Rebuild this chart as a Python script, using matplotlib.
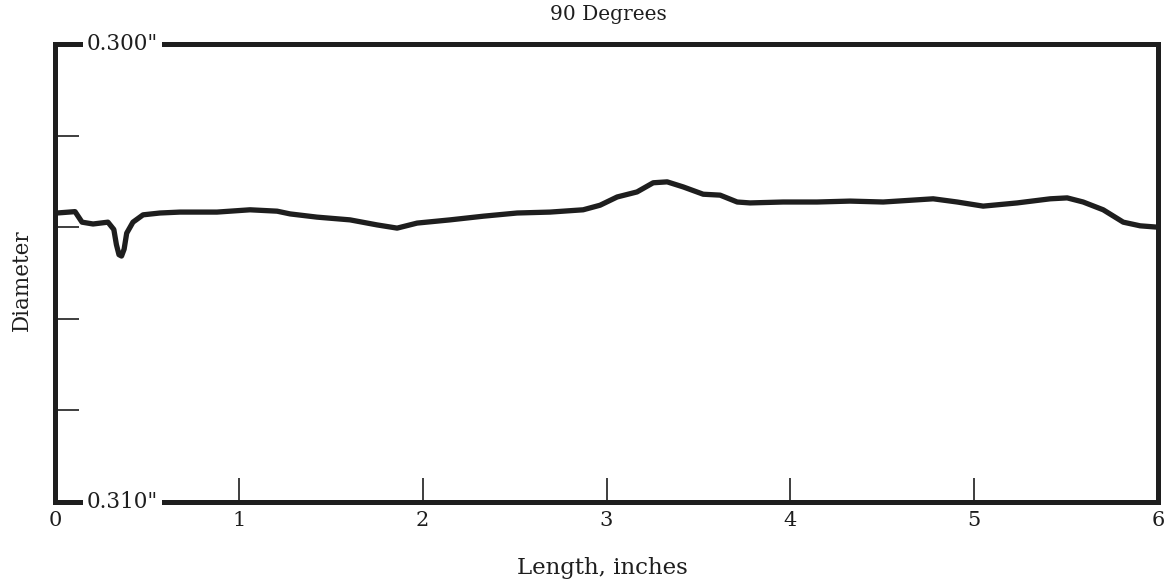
import matplotlib
matplotlib.use("Agg")
import matplotlib.pyplot as plt
import numpy as np

# Data (length in inches, diameter in inches)
length_in = [0.0, 0.011, 0.109, 0.147, 0.207, 0.288, 0.320, 0.334, 0.348, 0.362, 0.376,
             0.390, 0.424, 0.479, 0.571, 0.680, 0.881, 1.061, 1.208, 1.279, 1.425,
             1.605, 1.752, 1.861, 1.970, 2.149, 2.329, 2.514, 2.693, 2.873, 2.965,
             3.058, 3.166, 3.254, 3.330, 3.417, 3.526, 3.618, 3.711, 3.781, 3.961,
             4.146, 4.325, 4.505, 4.777, 4.908, 5.049, 5.234, 5.414, 5.506, 5.593,
             5.702, 5.811, 5.903, 6.0]
diameter = [0.30369, 0.30369, 0.30366, 0.30389, 0.30393, 0.30389, 0.30405, 0.30438, 0.30460, 0.30463, 0.30448,
            0.30413, 0.30389, 0.30373, 0.30369, 0.30367, 0.30367, 0.30362, 0.30365, 0.30371, 0.30378,
            0.30384, 0.30395, 0.30402, 0.30391, 0.30384, 0.30376, 0.30369, 0.30367, 0.30362, 0.30352,
            0.30334, 0.30323, 0.30303, 0.30301, 0.30312, 0.30328, 0.30330, 0.30345, 0.30347, 0.30345,
            0.30345, 0.30343, 0.30345, 0.30338, 0.30345, 0.30354, 0.30347, 0.30338, 0.30336, 0.30345,
            0.30362, 0.30389, 0.30397, 0.30400]

x_ticks = [0, 1, 2, 3, 4, 5, 6]
x_tick_labels = ["0", "1", "2", "3", "4", "5", "6"]
y_ticks = [0.300, 0.302, 0.304, 0.306, 0.308, 0.310]
y_end_labels = ['0.300"', '0.310"']

title = "90 Degrees"
xlabel = "Length, inches"
ylabel = "Diameter"

ink = "#1e1e1e"
serif = ["DejaVu Serif"]

fig = plt.figure(figsize=(11.66, 5.87), dpi=100)
ax = fig.add_axes([55/1166, 1 - 502/587, (1158 - 55)/1166, (502 - 44)/587])

ax.plot(length_in, diameter, color=ink, lw=3.8, solid_capstyle="round",
        solid_joinstyle="round", zorder=3)

ax.set_xlim(0, 6)
ax.set_ylim(0.310, 0.300)

for s in ax.spines.values():
    s.set_linewidth(3.6)
    s.set_color(ink)

ax.set_xticks(x_ticks[1:-1])
ax.set_xticklabels([])
ax.set_yticks(y_ticks[1:-1])
ax.set_yticklabels([])
ax.tick_params(axis="both", direction="in", length=17, width=1.2, color=ink)

# x tick labels below axis
for xv, lab in zip(x_ticks, x_tick_labels):
    ax.text(xv, -0.04, lab, transform=ax.get_xaxis_transform(), ha="center",
            va="center", fontsize=15, family=serif, color=ink)

# end labels overlapping the top and bottom spines
for yv, lab in zip([y_ticks[0], y_ticks[-1]], y_end_labels):
    ax.text(0.172, yv, lab, transform=ax.transData,
            ha="left", va="center", fontsize=15.5, family=serif, color=ink,
            bbox=dict(facecolor="white", edgecolor="none", pad=3), zorder=5,
            clip_on=False)

fig.text(608/1166, 1 - 15/587, title, ha="center", va="center", fontsize=14.5,
         family=serif, color=ink)
fig.text(602/1166, 1 - 568/587, xlabel, ha="center", va="center", fontsize=16.5,
         family=serif, color=ink)
fig.text(22/1166, 1 - 280/587, ylabel, ha="center", va="center", fontsize=15.5,
         rotation=90, family=serif, color=ink)

fig.savefig("out.png", dpi=100, facecolor="white")
